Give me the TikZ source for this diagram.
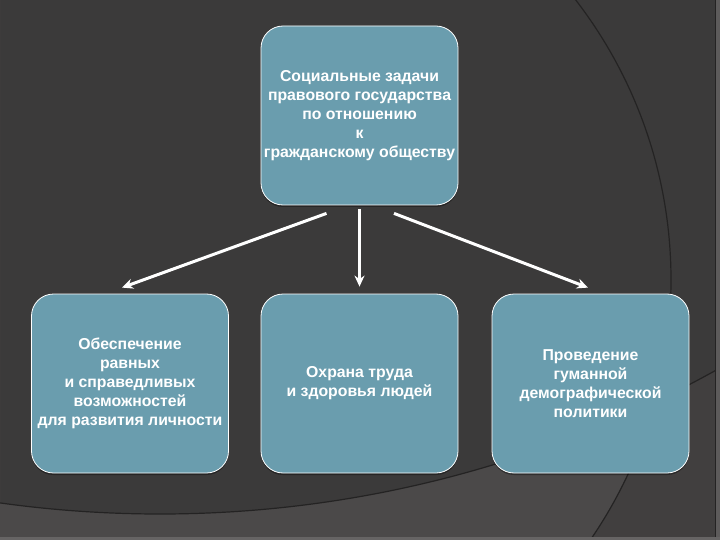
\documentclass[tikz,border=0pt]{standalone}
\usepackage{fontspec}
\setmainfont{Liberation Sans}
\usetikzlibrary{calc,arrows.meta,shadows}
\definecolor{bgmain}{HTML}{3B3A3A}
\definecolor{bglight}{HTML}{4B4949}
\definecolor{bgmid}{HTML}{413F3F}
\definecolor{arcline}{HTML}{242323}
\definecolor{boxfill}{HTML}{6A9DAE}
\tikzset{
  taskbox/.style={draw=white, line width=0.8pt, fill=boxfill, rounded corners=22pt,
    minimum width=197pt, minimum height=179pt, inner sep=0pt, align=center,
    text=white, font=\fontsize{15.8}{19}\selectfont\bfseries,
    drop shadow={shadow xshift=0pt, shadow yshift=-2pt, opacity=0.35, fill=black}},
  flowarrow/.style={draw=white, line width=3pt, -{Stealth[length=11pt,width=10pt]}}
}
\begin{document}
\begin{tikzpicture}[x=1pt,y=-1pt]
\useasboundingbox (0,0) rectangle (720,540);
% background
\fill[bgmid] (0,0) rectangle (720,540);
\begin{scope}
  \clip (0,0) rectangle (720,540);
  \fill[bgmain] (160,-631) circle (1145pt);
  \begin{scope}
    \clip (212,280) circle (459pt);
    \fill[bglight, even odd rule] (0,0) rectangle (720,540) (160,-631) circle (1145pt);
  \end{scope}
  \draw[arcline, line width=1.2pt] (212,280) circle (459pt);
  \draw[arcline, line width=1.2pt] (160,-631) circle (1145pt);
  \fill[bglight!90!white] (716,0) rectangle (720,540);
  \draw[arcline, line width=1pt] (715.5,0) -- (715.5,540);
  \fill[bglight!85!white] (0,537) rectangle (720,540);
\end{scope}
% boxes
\node[taskbox] (top) at (359.5,115.5) {Социальные задачи\\правового государства\\по отношению\\к\\гражданскому обществу};
\node[taskbox] (left) at (130,383.5) {Обеспечение\\равных\\и справедливых\\возможностей\\для развития личности};
\node[taskbox] (mid) at (359.5,383.5) {Охрана труда\\и здоровья людей};
\node[taskbox] (right) at (590.5,383.5) {Проведение\\гуманной\\демографической\\политики};
% arrows
\draw[flowarrow] ($(top.south)+(-33,8)$) -- ($(left.north)+(-8,-6)$);
\draw[flowarrow] ($(top.south)+(0,4)$) -- ($(mid.north)+(0,-7)$);
\draw[flowarrow] ($(top.south)+(34.5,8)$) -- ($(right.north)+(-2.5,-6)$);
\end{tikzpicture}
\end{document}
